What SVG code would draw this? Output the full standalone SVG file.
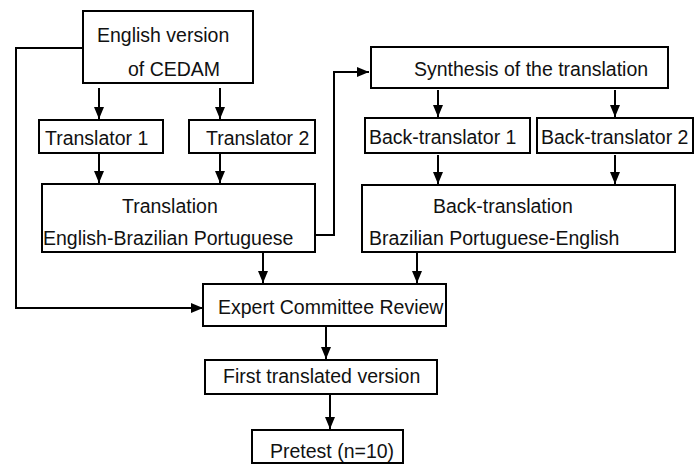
<svg xmlns="http://www.w3.org/2000/svg" width="695" height="464" viewBox="0 0 695 464">
<defs>
<marker id="ah" markerUnits="userSpaceOnUse" viewBox="0 0 12 10" markerWidth="12" markerHeight="10" refX="12" refY="5" orient="auto">
<path d="M0,0 L12,5 L0,10 z" fill="#000"/>
</marker>
</defs>
<style>
rect{fill:#fff;stroke:#000;stroke-width:2}
text{font-family:"Liberation Sans",Arial,sans-serif;font-size:19.5px;fill:#111}
.c path{fill:none;stroke:#000;stroke-width:2;marker-end:url(#ah)}
</style>
<rect x="0" y="0" width="695" height="464" style="stroke:none"/>
<g id="english"><rect x="83" y="11" width="170" height="72"/><text x="97" y="42">English version</text><text x="128" y="76">of CEDAM</text></g>
<g id="translator1"><rect x="39" y="120" width="124" height="33"/><text x="45" y="145">Translator 1</text></g>
<g id="translator2"><rect x="189" y="120" width="126" height="33"/><text x="206" y="145">Translator 2</text></g>
<g id="translation"><rect x="42" y="184" width="273" height="68"/><text x="122" y="213">Translation</text><text x="43" y="245">English-Brazilian Portuguese</text></g>
<g id="synthesis"><rect x="371" y="47" width="297" height="41"/><text x="414" y="76">Synthesis of the translation</text></g>
<g id="backtranslator1"><rect x="365" y="118" width="165" height="35"/><text x="369" y="144">Back-translator 1</text></g>
<g id="backtranslator2"><rect x="537" y="118" width="156" height="35"/><text x="541" y="144">Back-translator 2</text></g>
<g id="backtranslation"><rect x="362" y="185" width="313" height="67"/><text x="433" y="213">Back-translation</text><text x="369" y="245">Brazilian Portuguese-English</text></g>
<g id="expert"><rect x="203" y="284" width="243" height="42"/><text x="218" y="314">Expert Committee Review</text></g>
<g id="first"><rect x="205" y="360" width="232" height="34"/><text x="223" y="383">First translated version</text></g>
<g id="pretest"><rect x="252" y="430" width="151" height="33"/><text x="270" y="458">Pretest (n=10)</text></g>
<g class="c" id="connectors">
<path d="M83,48 H16 V308 H203"/>
<path d="M99,88 V119"/>
<path d="M220,88 V119"/>
<path d="M99,154 V183"/>
<path d="M220,154 V183"/>
<path d="M315,235 H334 V72 H369"/>
<path d="M438,90 V117"/>
<path d="M615,90 V117"/>
<path d="M438,155 V184"/>
<path d="M615,155 V184"/>
<path d="M263,252 V283"/>
<path d="M417,252 V283"/>
<path d="M326,327 V359"/>
<path d="M330,395 V429"/>
</g>
</svg>
